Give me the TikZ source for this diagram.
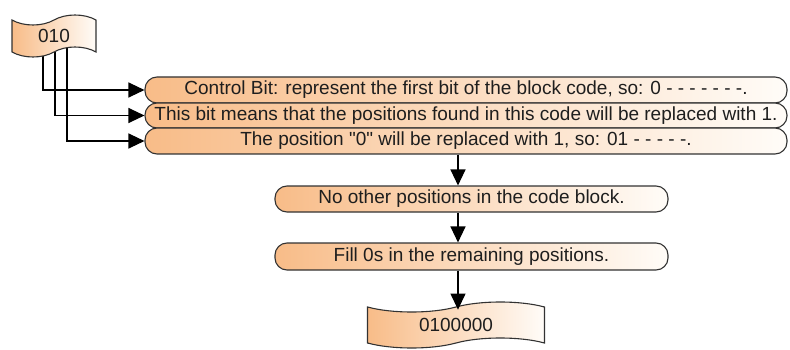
\documentclass[tikz,border=0pt]{standalone}
\usepackage{fontspec}
\setmainfont{Liberation Sans}[Ligatures=TeXOff]
\usetikzlibrary{arrows.meta,shapes.symbols,backgrounds}
\definecolor{peach}{RGB}{248,188,136}
\definecolor{paleend}{RGB}{255,252,248}
\definecolor{edge}{RGB}{50,50,50}
\definecolor{txt}{RGB}{30,30,30}
\tikzset{
  stepbox/.style={draw=edge, line width=1.1pt, rounded corners=12pt,
    left color=peach, right color=paleend, inner sep=0pt,
    font=\fontsize{19}{22}\selectfont, text=txt},
  tapebox/.style={tape, draw=edge, line width=1.1pt, tape bend height=10pt,
    left color=peach, right color=paleend, inner sep=0pt,
    font=\fontsize{19}{22}\selectfont, text=txt},
  conn/.style={line width=1.2pt, black, -{Triangle[length=16pt,width=15pt]}}
}
\begin{document}
\begin{tikzpicture}[x=1pt,y=-1pt]
\useasboundingbox (0,0) rectangle (790,350);
\node[tapebox, minimum width=84pt, minimum height=42pt] (t1) at (54,36) {010};
\node[stepbox, minimum width=642pt, minimum height=26pt] (b1) at (466,90)
  {Control Bit: represent the first bit of the block code, so: 0 - - - - - - -.};
\node[stepbox, minimum width=642pt, minimum height=25pt] (b2) at (466,115.5)
  {This bit means that the positions found in this code will be replaced with 1.};
\node[stepbox, minimum width=642pt, minimum height=26pt] (b3) at (466,141)
  {The position "0" will be replaced with 1, so: 01 - - - - -.};
\node[stepbox, minimum width=393pt, minimum height=26pt] (b4) at (471.5,199)
  {No other positions in the code block.};
\node[stepbox, minimum width=393pt, minimum height=27pt] (b5) at (471.5,256.5)
  {Fill 0s in the remaining positions.};
\node[tapebox, minimum width=177pt, minimum height=46pt] (t2) at (456,325) {0100000};
\coordinate (ax) at (458,0);
\begin{scope}[on background layer]
\draw[conn] ([xshift=-11pt]t1.center) |- (b1.west);
\draw[conn] ([xshift=1pt]t1.center) |- (b2.west);
\draw[conn] ([xshift=13pt]t1.center) |- (b3.west);
\end{scope}
\draw[conn] (b3.south -| ax) -- (b4.north -| ax);
\draw[conn] (b4.south -| ax) -- (b5.north -| ax);
\draw[conn] (b5.south -| ax) -- ([yshift=-3pt]t2.north -| ax);
\end{tikzpicture}
\end{document}
